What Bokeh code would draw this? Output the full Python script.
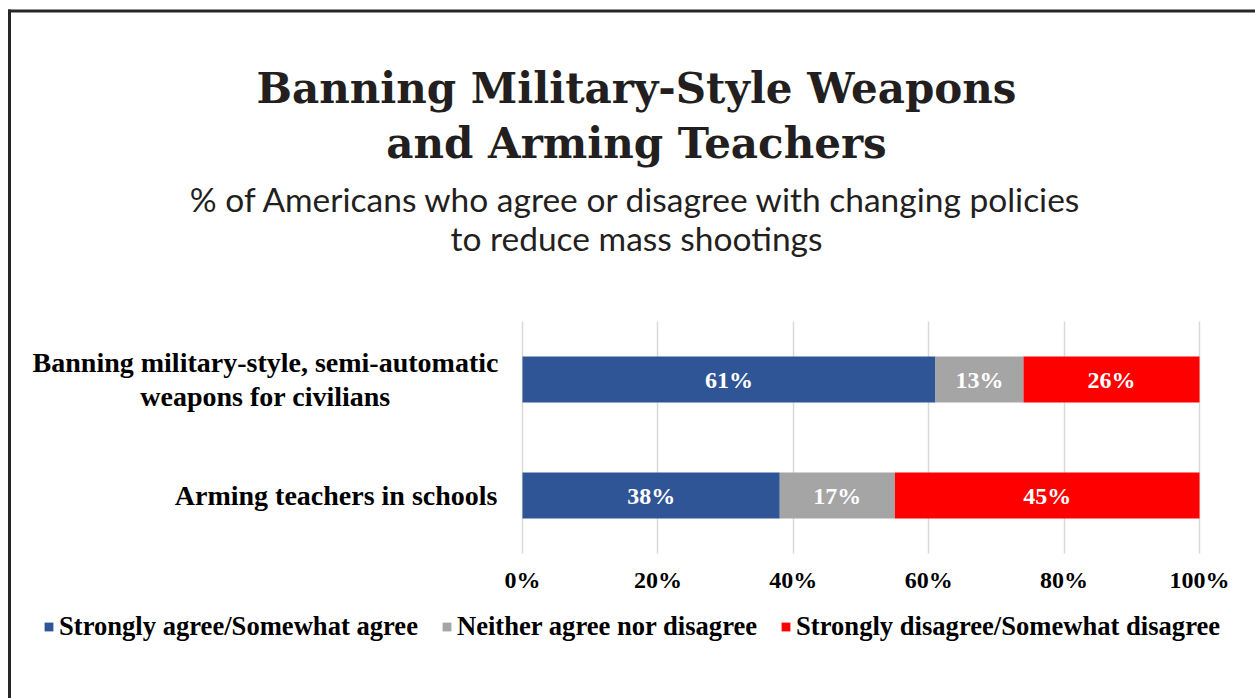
from bokeh.plotting import figure
from bokeh.models import ColumnDataSource, Label, FixedTicker, BoxAnnotation
from bokeh.core.properties import value
from bokeh.embed import file_html
from bokeh.resources import INLINE

# ---------------- data ----------------
categories = ["Banning military-style, semi-automatic\nweapons for civilians",
              "Arming teachers in schools"]
agree = [61, 38]
neither = [13, 17]
disagree = [26, 45]
series_names = ["Strongly agree/Somewhat agree",
                "Neither agree nor disagree",
                "Strongly disagree/Somewhat disagree"]
colors = ["#2F5597", "#A5A5A5", "#FF0000"]
tick_values = [0, 20, 40, 60, 80, 100]
tick_labels = ["0%", "20%", "40%", "60%", "80%", "100%"]
title_lines = ["Banning Military-Style Weapons", "and Arming Teachers"]
subtitle_lines = ["% of Americans who agree or disagree with changing policies",
                  "to reduce mass shootings"]

# ---------------- layout (pixels) ----------------
W, H = 1255, 698
L0, L100 = 522, 1199
TOP, BOT = 321, 553
ppu = (L100 - L0) / 100.0
upx = (BOT - TOP) / 2.0

def px2x(px):
    return (px - L0) / ppu

def py2y(py):
    return 1.5 - (py - TOP) / upx

rows = [1, 0]
src = ColumnDataSource(dict(y=rows, agree=agree, neither=neither, disagree=disagree))

p = figure(width=W, height=H, x_range=(px2x(0), px2x(W)), y_range=(py2y(H), py2y(0)),
           output_backend="svg", toolbar_location=None, y_axis_location=None,
           min_border_left=0, min_border_right=0, min_border_top=0,
           min_border_bottom=0)
p.outline_line_color = None
p.background_fill_color = "white"
p.border_fill_color = "white"

renderers = p.hbar_stack(["agree", "neither", "disagree"], y="y", height=46 / upx,
                         color=colors, line_color=None, source=src,
                         legend_label=series_names)

# value labels in the bars
vx, vy, vt = [], [], []
for i, r in enumerate(rows):
    start = 0
    for vals in (agree, neither, disagree):
        v = vals[i]
        vx.append(start + v / 2.0)
        vy.append(r)
        vt.append(f"{v}%")
        start += v
p.text(x=vx, y=vy, text=vt, text_align="center", text_baseline="middle",
       text_color="white", text_font=value("Liberation Serif"),
       text_font_style="bold", text_font_size="24px")

# category labels
p.text(x=[px2x(265)], y=[rows[0]], text=[categories[0]], text_align="center",
       text_baseline="middle", text_color="black", text_font=value("Liberation Serif"),
       text_font_style="bold", text_font_size="28px", text_line_height=1.1)
p.text(x=[px2x(497)], y=[rows[1]], text=[categories[1]], text_align="right",
       text_baseline="middle", text_color="black", text_font=value("Liberation Serif"),
       text_font_style="bold", text_font_size="28px")

# x axis (drawn at the bottom of the bar area)
p.xaxis.fixed_location = py2y(BOT)
p.xaxis.ticker = FixedTicker(ticks=tick_values)
p.xaxis.major_label_overrides = {t: l for t, l in zip(tick_values, tick_labels)}
p.xaxis.axis_line_color = None
p.xaxis.major_tick_line_color = None
p.xaxis.minor_tick_line_color = None
p.xaxis.major_label_standoff = 7
p.xaxis.major_label_text_font = "Liberation Serif"
p.xaxis.major_label_text_font_style = "bold"
p.xaxis.major_label_text_font_size = "24px"
p.xaxis.major_label_text_color = "black"
p.xgrid.grid_line_color = "#D9D9D9"
p.xgrid.grid_line_width = 1.5
p.xgrid.cross_bounds = (py2y(BOT), py2y(TOP))
p.ygrid.grid_line_color = None

# legend
lg = p.legend[0]
lg.orientation = "horizontal"
lg.location = (43, H - 642)
lg.padding = 0
lg.spacing = 23
lg.label_standoff = 5
lg.glyph_width = 11
lg.glyph_height = 11
lg.label_text_font = "Liberation Serif"
lg.label_text_font_style = "bold"
lg.label_text_font_size = "26.6px"
lg.label_text_color = "black"
lg.background_fill_alpha = 0
lg.border_line_alpha = 0

# title / subtitle
for line, py in zip(title_lines, [88, 143]):
    p.add_layout(Label(x=px2x(636), y=py2y(py), text=line, text_align="center",
                       text_baseline="middle", text_font="DejaVu Serif",
                       text_font_style="bold", text_font_size="42px",
                       text_color="#231F20"))
for line, py in zip(subtitle_lines, [198, 237]):
    p.add_layout(Label(x=px2x(636), y=py2y(py), text=line, text_align="center",
                       text_baseline="middle", text_font="Lato",
                       text_font_size="33.5px", text_color="#231F20"))

# page frame line (top and left edges visible)
p.add_layout(BoxAnnotation(left=px2x(7.5), right=px2x(W), top=py2y(9),
                           bottom=py2y(12), fill_color="#262626", fill_alpha=1,
                           line_color=None, line_alpha=0))
p.add_layout(BoxAnnotation(left=px2x(7.5), right=px2x(10.5), top=py2y(9),
                           bottom=py2y(H), fill_color="#262626", fill_alpha=1,
                           line_color=None, line_alpha=0))

open("out.html", "w").write(file_html(p, INLINE))
